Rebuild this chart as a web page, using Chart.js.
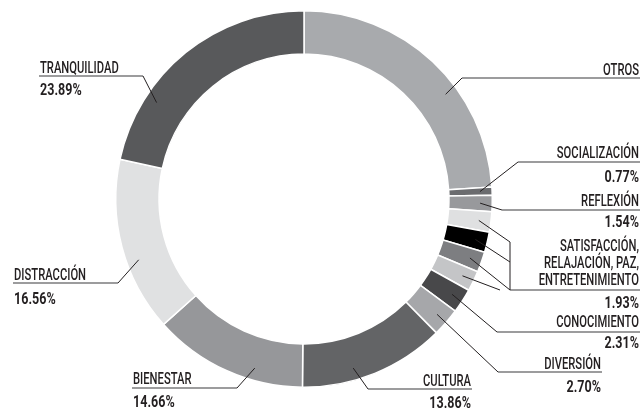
<!DOCTYPE html>
<html>
<head>
<meta charset="utf-8">
<script src="https://cdn.jsdelivr.net/npm/chart.js@4"></script>
<style>
  html, body { margin: 0; padding: 0; background: #fff; }
  #wrap { width: 642px; height: 410px; }
</style>
</head>
<body>
<div id="wrap"><canvas id="donut" width="642" height="410"></canvas></div>
<script>
// values (clockwise from 12 o'clock)
const categories = ['OTROS', 'SOCIALIZACIÓN', 'REFLEXIÓN', 'SATISFACCIÓN', 'RELAJACIÓN', 'PAZ',
  'ENTRETENIMIENTO', 'CONOCIMIENTO', 'DIVERSIÓN', 'CULTURA', 'BIENESTAR', 'DISTRACCIÓN', 'TRANQUILIDAD'];
const percents = [26.5, 0.77, 1.54, 1.93, 1.93, 1.93, 1.93, 2.31, 2.70, 13.86, 14.66, 16.56, 23.89];
const sliceColors = ['#a8aaad', '#6b6c6f', '#98999c', '#dfe0e1', '#000000', '#7d7e81',
  '#c4c5c7', '#48484a', '#a6a7aa', '#636466', '#96979a', '#e0e1e2', '#58595b'];

// callout layout: where each label sits and where its leader meets the ring
const callouts = [
  { idx: [0], t: [0.62], align: 'right', x: 639, lines: ['OTROS'], base: 75, lineY: 78, elbowX: 462, pct: null },
  { idx: [1], t: [0.5], align: 'right', x: 639, lines: ['SOCIALIZACIÓN'], base: 158, lineY: 162, elbowX: 518, pct: '0.77%', pctBase: 182 },
  { idx: [2], t: [0.5], align: 'right', x: 639, lines: ['REFLEXIÓN'], base: 206, lineY: 210, elbowX: 502, pct: '1.54%', pctBase: 227 },
  { idx: [3, 4, 5, 6], t: [0.5, 0.5, 0.5, 0.5], align: 'right', x: 639,
    lines: ['SATISFACCIÓN,', 'RELAJACIÓN, PAZ,', 'ENTRETENIMIENTO'], base: 251, lineGap: 17, lineY: 290, elbowX: 510,
    groupEnds: [[510, 242], [510, 262], [510, 290], [500, 290]], pct: '1.93%', pctBase: 308 },
  { idx: [7], t: [0.5], align: 'right', x: 639, lines: ['CONOCIMIENTO'], base: 327, lineY: 332, elbowX: 497, pct: '2.31%', pctBase: 348 },
  { idx: [8], t: [0.5], align: 'right', x: 601, lines: ['DIVERSIÓN'], base: 369, lineY: 372, elbowX: 498, pct: '2.70%', pctBase: 392 },
  { idx: [9], t: [0.63], align: 'right', x: 471, lines: ['CULTURA'], base: 386, lineY: 389, elbowX: 368, pct: '13.86%', pctBase: 408 },
  { idx: [10], t: [0.33], align: 'left', x: 133, lines: ['BIENESTAR'], base: 384, lineY: 388, elbowX: 237, pct: '14.66%', pctBase: 407 },
  { idx: [11], t: [0.4], align: 'left', x: 14, lines: ['DISTRACCIÓN'], base: 280, lineY: 283, elbowX: 118, pct: '16.56%', pctBase: 304 },
  { idx: [12], t: [0.27], align: 'left', x: 40, lines: ['TRANQUILIDAD'], base: 73, lineY: 76, elbowX: 143, pct: '23.89%', pctBase: 95 }
];

const FONT = 'Roboto, "Liberation Sans", sans-serif';

function drawNarrow(ctx, text, x, y, align, bold) {
  const squeeze = bold ? 0.76 : 0.68;
  ctx.save();
  ctx.font = (bold ? 'bold ' : '500 ') + '16.5px ' + FONT;
  const w = ctx.measureText(text).width * squeeze;
  const left = align === 'right' ? x - w : x;
  ctx.translate(left, y);
  ctx.scale(squeeze, 1);
  ctx.textAlign = 'left';
  ctx.textBaseline = 'alphabetic';
  ctx.fillStyle = '#231f20';
  ctx.fillText(text, 0, 0);
  ctx.restore();
  return w;
}

function anchorOf(arc, t) {
  const p = arc.getProps(['x', 'y', 'startAngle', 'endAngle', 'innerRadius', 'outerRadius'], true);
  const a = p.startAngle + t * (p.endAngle - p.startAngle);
  const r = p.innerRadius + 0.72 * (p.outerRadius - p.innerRadius);
  return [p.x + Math.cos(a) * r, p.y + Math.sin(a) * r];
}

const calloutPlugin = {
  id: 'callouts',
  afterDraw(chart) {
    const ctx = chart.ctx;
    const arcs = chart.getDatasetMeta(0).data;
    callouts.forEach(c => {
      // text
      c.lines.forEach((ln, k) => drawNarrow(ctx, ln, c.x, c.base + k * (c.lineGap || 0), c.align, false));
      if (c.pct) drawNarrow(ctx, c.pct, c.x, c.pctBase, c.align, true);

      // underline
      ctx.save();
      ctx.strokeStyle = '#3a3a3c';
      ctx.lineWidth = 1.2;
      ctx.beginPath();
      const endX = c.align === 'right' ? c.x + 1 : c.x - 1;
      ctx.moveTo(endX, c.lineY);
      ctx.lineTo(c.elbowX, c.lineY);
      ctx.stroke();

      // leaders
      ctx.strokeStyle = '#231f20';
      ctx.lineWidth = 1;
      if (c.groupEnds) {
        ctx.beginPath();
        ctx.moveTo(c.elbowX, c.groupEnds[0][1]);
        ctx.lineTo(c.elbowX, c.lineY);
        ctx.stroke();
        c.idx.forEach((i, k) => {
          const [ax, ay] = anchorOf(arcs[i], c.t[k]);
          ctx.beginPath();
          ctx.moveTo(ax, ay);
          ctx.lineTo(c.groupEnds[k][0], c.groupEnds[k][1]);
          ctx.stroke();
        });
      } else {
        const [ax, ay] = anchorOf(arcs[c.idx[0]], c.t[0]);
        ctx.beginPath();
        ctx.moveTo(ax, ay);
        ctx.lineTo(c.elbowX, c.lineY);
        ctx.stroke();
      }
      ctx.restore();
    });
  }
};

new Chart(document.getElementById('donut'), {
  type: 'doughnut',
  data: {
    labels: categories,
    datasets: [{
      data: percents,
      backgroundColor: sliceColors,
      borderColor: '#ffffff',
      borderWidth: 1.5
    }]
  },
  options: {
    responsive: false,
    animation: false,
    cutout: '77%',
    layout: { padding: { top: 10, bottom: 22, left: 115, right: 149 } },
    plugins: {
      legend: { display: false },
      tooltip: { enabled: false }
    }
  },
  plugins: [calloutPlugin]
});
</script>
</body>
</html>
